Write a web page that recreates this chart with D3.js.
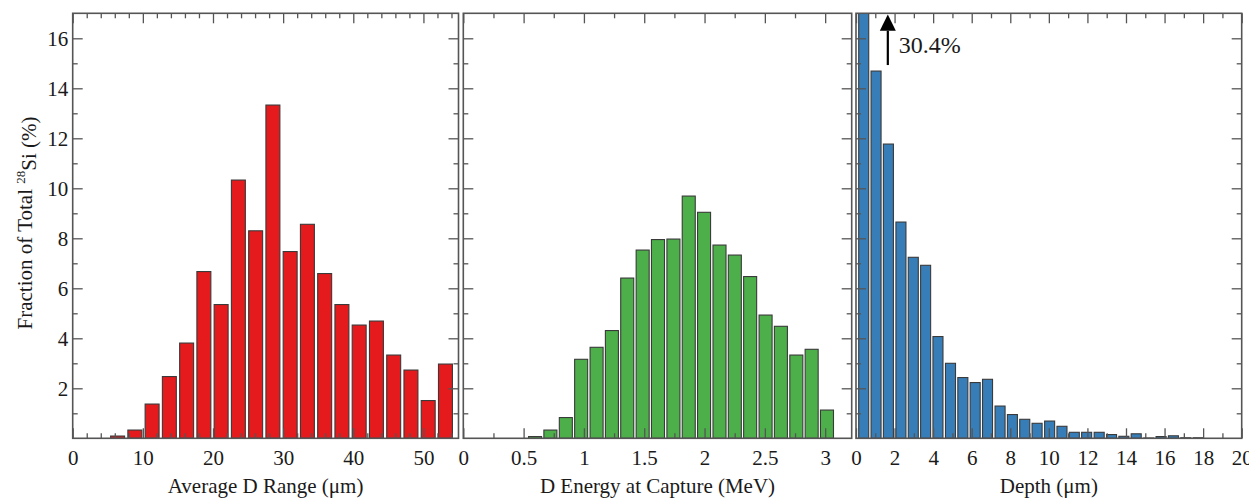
<!DOCTYPE html>
<html>
<head>
<meta charset="utf-8">
<script src="https://cdn.jsdelivr.net/npm/d3@7/dist/d3.min.js"></script>
<style>
  html, body { margin: 0; padding: 0; background: #fff; }
  svg { display: block; }
  text { font-family: "Liberation Serif", "Times New Roman", serif; fill: #1a1a1a; }
</style>
</head>
<body>
<svg id="chart" width="1249" height="500"></svg>
<script>
// ---------------- DATA ----------------
// Panel 1: Average D Range (µm)
const rangeBins   = [6.40, 8.86, 11.32, 13.78, 16.24, 18.70, 21.16, 23.62, 26.08, 28.54,
                     31.00, 33.46, 35.92, 38.38, 40.84, 43.30, 45.76, 48.22, 50.68, 53.14];
const rangeValues = [0.09, 0.33, 1.37, 2.47, 3.81, 6.67, 5.35, 10.33, 8.30, 13.33,
                     7.47, 8.56, 6.59, 5.35, 4.53, 4.69, 3.33, 2.73, 1.51, 2.97];
const rangeTicks  = [0, 10, 20, 30, 40, 50];

// Panel 2: D Energy at Capture (MeV)
const energyBins   = [0.595, 0.722, 0.850, 0.977, 1.105, 1.232, 1.359, 1.487, 1.614, 1.742,
                      1.869, 1.996, 2.124, 2.251, 2.378, 2.506, 2.633, 2.761, 2.888, 3.015];
const energyValues = [0.07, 0.33, 0.83, 3.16, 3.64, 4.31, 6.41, 7.53, 7.95, 7.97,
                      9.69, 9.04, 7.73, 7.33, 6.47, 4.93, 4.48, 3.33, 3.56, 1.13];
const energyTicks  = [0, 0.5, 1, 1.5, 2, 2.5, 3];

// Panel 3: Depth (µm)
const depthBins   = [0.40, 1.04, 1.68, 2.33, 2.97, 3.61, 4.25, 4.90, 5.54, 6.18,
                     6.82, 7.47, 8.11, 8.75, 9.39, 10.04, 10.68, 11.32, 11.96, 12.61,
                     13.25, 13.89, 14.53, 15.18, 15.82, 16.46, 17.10, 17.75];
const depthValues = [30.4, 14.69, 11.77, 8.65, 7.24, 6.92, 4.07, 3.00, 2.43, 2.23,
                     2.36, 1.29, 0.95, 0.76, 0.60, 0.69, 0.48, 0.24, 0.24, 0.24,
                     0.15, 0.08, 0.18, 0.01, 0.07, 0.10, 0.02, 0.02];
const depthTicks  = [0, 2, 4, 6, 8, 10, 12, 14, 16, 18, 20];

// Shared y axis
const yTicks = [2, 4, 6, 8, 10, 12, 14, 16];
const yLabelText = ["Fraction of Total ", "28", "Si (%)"];

// ---------------- LAYOUT ----------------
const svg = d3.select("#chart");
const yTop = 13.3, yBot = 438.3;
const y = d3.scaleLinear().domain([0, 17]).range([yBot, yTop]);
const frameColor = "#555";

const panels = [
  { x0: 72.7,  x1: 458.5,  domain: [0, 55],   ticks: rangeTicks,  minorStep: 2,    barW: 1.99,
    bins: rangeBins,  vals: rangeValues,  color: "#e41a1c", title: "Average D Range (\u03bcm)", fmt: d => d },
  { x0: 463.3, x1: 851.7,  domain: [0, 3.22], ticks: energyTicks, minorStep: 0.25, barW: 0.108,
    bins: energyBins, vals: energyValues, color: "#4daf4a", title: "D Energy at Capture (MeV)", fmt: d => d },
  { x0: 856,   x1: 1241.7, domain: [0, 20],   ticks: depthTicks,  minorStep: 1,    barW: 0.52,
    bins: depthBins,  vals: depthValues,  color: "#377eb8", title: "Depth (\u03bcm)", fmt: d => d }
];

const yMinor = d3.range(1, 17, 1);

panels.forEach((p, i) => {
  const x = d3.scaleLinear().domain(p.domain).range([p.x0, p.x1]);
  const g = svg.append("g");
  const clipId = "clip" + i;
  svg.append("clipPath").attr("id", clipId)
    .append("rect").attr("x", p.x0).attr("y", yTop).attr("width", p.x1 - p.x0).attr("height", yBot - yTop);

  // bars
  const halfPx = (x(p.barW) - x(0)) / 2;
  g.append("g").attr("clip-path", `url(#${clipId})`)
    .selectAll("rect").data(p.bins.map((b, k) => ({ b, v: p.vals[k] })))
    .join("rect")
    .attr("x", d => x(d.b) - halfPx)
    .attr("width", halfPx * 2)
    .attr("y", d => y(d.v))
    .attr("height", d => y(0) - y(d.v))
    .attr("fill", p.color)
    .attr("stroke", "#3a3a3a")
    .attr("stroke-width", 1.1);

  const minorX = d3.range(p.domain[0], p.domain[1] + 1e-9, p.minorStep)
    .filter(v => !p.ticks.some(t => Math.abs(t - v) < 1e-9));

  const styleAxis = sel => {
    sel.select(".domain").remove();
    sel.attr("font-family", null).attr("font-size", null);
    sel.selectAll(".tick line").attr("stroke", frameColor).attr("stroke-width", 1.3);
    sel.selectAll(".tick text").style("font-size", "21px").attr("fill", "#1a1a1a");
  };

  // bottom axis (major with labels)
  g.append("g").attr("transform", `translate(0,${yBot})`)
    .call(d3.axisBottom(x).tickValues(p.ticks).tickFormat(p.fmt).tickSize(-10).tickPadding(12))
    .call(styleAxis);
  g.append("g").attr("transform", `translate(0,${yBot})`)
    .call(d3.axisBottom(x).tickValues(minorX).tickFormat("").tickSize(-5))
    .call(styleAxis);
  // top axis
  g.append("g").attr("transform", `translate(0,${yTop})`)
    .call(d3.axisTop(x).tickValues(p.ticks).tickFormat("").tickSize(-10))
    .call(styleAxis);
  g.append("g").attr("transform", `translate(0,${yTop})`)
    .call(d3.axisTop(x).tickValues(minorX).tickFormat("").tickSize(-5))
    .call(styleAxis);

  // left axis
  const yMinorOnly = yMinor.filter(v => !yTicks.includes(v));
  g.append("g").attr("transform", `translate(${p.x0},0)`)
    .call(d3.axisLeft(y).tickValues(yTicks).tickFormat(i === 0 ? (d => d) : "").tickSize(-10).tickPadding(4.5))
    .call(styleAxis);
  g.append("g").attr("transform", `translate(${p.x0},0)`)
    .call(d3.axisLeft(y).tickValues(yMinorOnly).tickFormat("").tickSize(-5))
    .call(styleAxis);
  // right axis
  g.append("g").attr("transform", `translate(${p.x1},0)`)
    .call(d3.axisRight(y).tickValues(yTicks).tickFormat("").tickSize(-10))
    .call(styleAxis);
  g.append("g").attr("transform", `translate(${p.x1},0)`)
    .call(d3.axisRight(y).tickValues(yMinorOnly).tickFormat("").tickSize(-5))
    .call(styleAxis);

  // frame
  g.append("rect").attr("x", p.x0).attr("y", yTop).attr("width", p.x1 - p.x0).attr("height", yBot - yTop)
    .attr("fill", "none").attr("stroke", frameColor).attr("stroke-width", 1.6);

  // x title
  g.append("text").attr("x", (p.x0 + p.x1) / 2).attr("y", 493)
    .attr("text-anchor", "middle").style("font-size", "21px").text(p.title);

  // annotation for clipped bar in depth panel
  if (i === 2) {
    const ax = x(1.65);
    g.append("line").attr("x1", ax).attr("x2", ax).attr("y1", y(14.93)).attr("y2", y(16.3))
      .attr("stroke", "#000").attr("stroke-width", 2.2);
    g.append("path")
      .attr("d", `M${ax},${y(16.95)} L${ax - 8},${y(16.3)} L${ax + 8},${y(16.3)} Z`)
      .attr("fill", "#000");
    g.append("text").attr("x", x(2.22)).attr("y", y(15.4))
      .style("font-size", "24px").text(d3.format(".1f")(p.vals[0]) + "%");
  }
});

// y-axis title
const yl = svg.append("text")
  .attr("transform", "translate(32,223) rotate(-90)")
  .attr("text-anchor", "middle")
  .style("font-size", "21px");
yl.append("tspan").text(yLabelText[0]);
yl.append("tspan").attr("dy", "-0.55em").style("font-size", "13px").text(yLabelText[1]);
yl.append("tspan").attr("dy", "0.55em").text(yLabelText[2]);
</script>
</body>
</html>
